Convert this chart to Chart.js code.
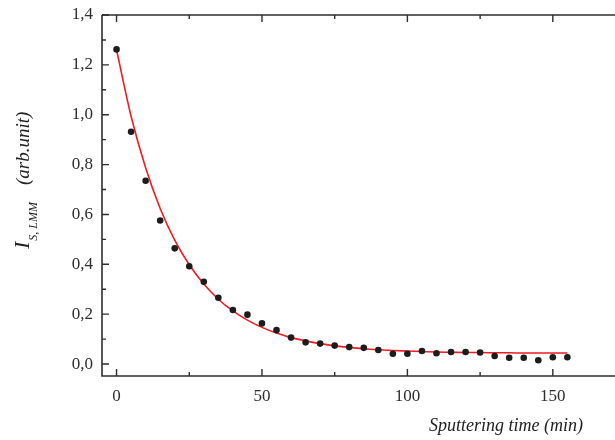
<!DOCTYPE html>
<html>
<head>
<meta charset="utf-8">
<script src="https://cdn.jsdelivr.net/npm/chart.js@4.4.1/dist/chart.umd.min.js"></script>
<style>
    body { margin: 0; background: #ffffff; }
    #chartBox { width: 615px; height: 440px; position: relative; }
</style>
</head>
<body>
<div id="chartBox"><canvas id="decayChart"></canvas></div>
<script>
const sputterTime = [0, 5, 10, 15, 20, 25, 30, 35, 40, 45, 50, 55, 60, 65, 70, 75,
    80, 85, 90, 95, 100, 105, 110, 115, 120, 125, 130, 135, 140, 145, 150, 155];
const intensity = [1.262, 0.932, 0.735, 0.576, 0.464, 0.392, 0.330, 0.266, 0.217, 0.198, 0.163, 0.136,
    0.106, 0.087, 0.082, 0.074, 0.068, 0.065, 0.056, 0.041, 0.041, 0.052, 0.043, 0.048,
    0.048, 0.046, 0.032, 0.025, 0.025, 0.015, 0.027, 0.027];
const fitValues = [1.260, 0.994, 0.787, 0.624, 0.497, 0.398, 0.321, 0.260, 0.213, 0.176, 0.147, 0.124,
    0.106, 0.093, 0.082, 0.073, 0.067, 0.061, 0.057, 0.054, 0.052, 0.050, 0.048, 0.047,
    0.046, 0.046, 0.045, 0.045, 0.044, 0.044, 0.044, 0.044];

const xTicks = [0, 50, 100, 150];
const xMinorTicks = [25, 75, 125];
const yTicks = [0, 0.2, 0.4, 0.6, 0.8, 1.0, 1.2, 1.4];
const yMinorTicks = [0.1, 0.3, 0.5, 0.7, 0.9, 1.1, 1.3];

const axisColor = '#2e2e2e';
const serifFont = "'Liberation Serif', 'DejaVu Serif', serif";

// inward ticks and the frame (left, bottom, top)
const frameTicks = {
    id: 'frameTicks',
    afterDatasetsDraw(chart) {
        const ctx = chart.ctx;
        const area = chart.chartArea;
        const xs = chart.scales.x;
        const ys = chart.scales.y;
        const rightEdge = chart.width;
        ctx.save();
        ctx.strokeStyle = axisColor;
        ctx.lineWidth = 1.6;

        ctx.beginPath();
        ctx.moveTo(area.left, area.top);
        ctx.lineTo(rightEdge, area.top);
        ctx.moveTo(area.left, area.top);
        ctx.lineTo(area.left, area.bottom);
        ctx.lineTo(rightEdge, area.bottom);
        ctx.stroke();

        ctx.lineWidth = 1.4;
        ctx.beginPath();
        xTicks.forEach(v => {
            const px = xs.getPixelForValue(v);
            ctx.moveTo(px, area.bottom); ctx.lineTo(px, area.bottom - 7);
            ctx.moveTo(px, area.top); ctx.lineTo(px, area.top + 7);
        });
        xMinorTicks.forEach(v => {
            const px = xs.getPixelForValue(v);
            ctx.moveTo(px, area.bottom); ctx.lineTo(px, area.bottom - 4);
            ctx.moveTo(px, area.top); ctx.lineTo(px, area.top + 4);
        });
        yTicks.forEach(v => {
            const py = ys.getPixelForValue(v);
            ctx.moveTo(area.left, py); ctx.lineTo(area.left + 7, py);
        });
        yMinorTicks.forEach(v => {
            const py = ys.getPixelForValue(v);
            ctx.moveTo(area.left, py); ctx.lineTo(area.left + 4, py);
        });
        ctx.stroke();
        ctx.restore();
    }
};

// axis titles, the y one has a subscript
const axisTitles = {
    id: 'axisTitles',
    afterDraw(chart) {
        const ctx = chart.ctx;
        ctx.save();
        ctx.fillStyle = '#222222';
        ctx.textBaseline = 'alphabetic';

        ctx.font = "italic 18px " + serifFont;
        ctx.textAlign = 'right';
        ctx.fillText('Sputtering time (min)', 583, 431);

        ctx.translate(29, 249);
        ctx.rotate(-Math.PI / 2);
        ctx.textAlign = 'left';
        ctx.font = "italic 22px " + serifFont;
        ctx.fillText('I', 0, 0);
        const iWidth = ctx.measureText('I').width;
        ctx.font = "italic 12px " + serifFont;
        ctx.fillText('S, LMM', iWidth + 1, 8);
        ctx.font = "italic 19px " + serifFont;
        ctx.fillText('(arb.unit)', 64, 0);
        ctx.restore();
    }
};

new Chart(document.getElementById('decayChart'), {
    type: 'scatter',
    data: {
        datasets: [{
            label: 'Fit',
            type: 'line',
            data: sputterTime.map((t, i) => ({ x: t, y: fitValues[i] })),
            borderColor: '#ee1c24',
            borderWidth: 1.6,
            pointRadius: 0,
            fill: false,
            cubicInterpolationMode: 'monotone',
            order: 2
        }, {
            label: 'Measured',
            data: sputterTime.map((t, i) => ({ x: t, y: intensity[i] })),
            backgroundColor: '#1c1c1c',
            borderColor: '#1c1c1c',
            pointRadius: 3.3,
            borderWidth: 0,
            order: 1
        }]
    },
    options: {
        responsive: true,
        maintainAspectRatio: false,
        animation: false,
        layout: { padding: { top: 15, left: 0, right: 0, bottom: 0 } },
        plugins: {
            legend: { display: false },
            tooltip: { enabled: false }
        },
        scales: {
            x: {
                type: 'linear',
                min: -5,
                max: 170,
                grid: { display: false, drawTicks: false },
                border: { display: false },
                afterBuildTicks: function (scale) {
                    scale.ticks = xTicks.map(v => ({ value: v }));
                },
                afterFit: function (scale) {
                    scale.height = 64;
                    scale.paddingLeft = 0;
                    scale.paddingRight = 0;
                },
                ticks: {
                    color: axisColor,
                    padding: 10,
                    maxRotation: 0,
                    font: { family: serifFont, size: 17 },
                    callback: function (value) { return String(value); }
                }
            },
            y: {
                min: -0.048,
                max: 1.4,
                grid: { display: false, drawTicks: false },
                border: { display: false },
                afterBuildTicks: function (scale) {
                    scale.ticks = yTicks.map(v => ({ value: v }));
                },
                afterFit: function (scale) {
                    scale.width = 102;
                    scale.paddingTop = 0;
                    scale.paddingBottom = 0;
                },
                ticks: {
                    color: axisColor,
                    padding: 9,
                    font: { family: serifFont, size: 17 },
                    callback: function (value) { return value.toFixed(1).replace('.', ','); }
                }
            }
        }
    },
    plugins: [frameTicks, axisTitles]
});
</script>
</body>
</html>
